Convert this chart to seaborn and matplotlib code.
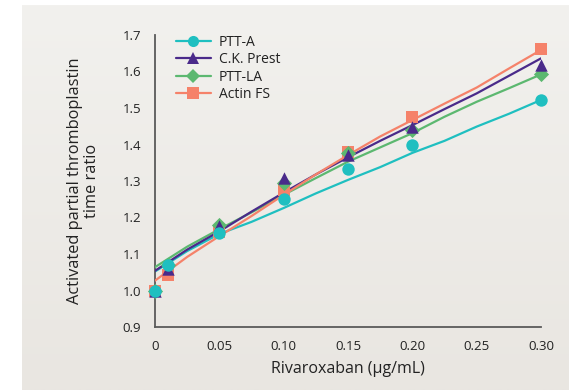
import numpy as np
import pandas as pd
import matplotlib
matplotlib.use("Agg")
import matplotlib.pyplot as plt
from matplotlib.lines import Line2D
import seaborn as sns

# Measured points
conc = [0, 0.01, 0.05, 0.10, 0.15, 0.20, 0.30]
ptt_a = [1.00, 1.070, 1.158, 1.251, 1.332, 1.400, 1.522]
ck_prest = [1.00, 1.060, 1.176, 1.307, 1.371, 1.449, 1.618]
ptt_la = [1.00, 1.070, 1.180, 1.295, 1.378, 1.440, 1.592]
actin_fs = [1.00, 1.042, 1.160, 1.275, 1.380, 1.476, 1.662]

# Fitted curves
fit_x = [0, 0.025, 0.05, 0.075, 0.10, 0.125, 0.15, 0.175, 0.20, 0.225, 0.25, 0.275, 0.30]
fit_ptt_a = [1.052, 1.108, 1.155, 1.188, 1.226, 1.266, 1.303, 1.338, 1.377, 1.410, 1.449, 1.484, 1.522]
fit_ck_prest = [1.054, 1.112, 1.162, 1.216, 1.268, 1.318, 1.365, 1.410, 1.453, 1.497, 1.540, 1.588, 1.636]
fit_ptt_la = [1.064, 1.120, 1.168, 1.214, 1.262, 1.308, 1.353, 1.392, 1.431, 1.476, 1.517, 1.554, 1.592]
fit_actin_fs = [1.027, 1.092, 1.149, 1.204, 1.262, 1.318, 1.371, 1.422, 1.467, 1.512, 1.556, 1.608, 1.659]

names = ["PTT-A", "C.K. Prest", "PTT-LA", "Actin FS"]
colors = {"PTT-A": "#1fbfc0", "C.K. Prest": "#4a2a8a", "PTT-LA": "#5cb870", "Actin FS": "#f5826a"}
markers = {"PTT-A": "o", "C.K. Prest": "^", "PTT-LA": "D", "Actin FS": "s"}
msize = {"PTT-A": 80, "C.K. Prest": 80, "PTT-LA": 60, "Actin FS": 70}

pts = pd.DataFrame({
    "x": conc * 4,
    "y": ptt_a + ck_prest + ptt_la + actin_fs,
    "reagent": sum([[n] * len(conc) for n in names], []),
})
fits = pd.DataFrame({
    "x": fit_x * 4,
    "y": fit_ptt_a + fit_ck_prest + fit_ptt_la + fit_actin_fs,
    "reagent": sum([[n] * len(fit_x) for n in names], []),
})

sns.set_style("white")
plt.rcParams["font.family"] = ["Open Sans", "DejaVu Sans"]

fig = plt.figure(figsize=(5.69, 3.91), dpi=100)
fig.patch.set_facecolor("white")

# gradient panel
bg = fig.add_axes([22 / 569, 1 / 391, 547 / 569, 385 / 391], zorder=-10)
grad = np.linspace(0, 1, 256).reshape(-1, 1)
top = np.array([242, 241, 238]) / 255
bot = np.array([233, 230, 225]) / 255
img = top[None, None, :] * (1 - grad[:, :, None]) + bot[None, None, :] * grad[:, :, None]
bg.imshow(img, aspect="auto", extent=[0, 1, 0, 1])
bg.set_axis_off()

ax = fig.add_axes([155 / 569, 64 / 391, 386 / 569, 292 / 391])
ax.set_facecolor("none")

draw_order = ["PTT-A", "PTT-LA", "C.K. Prest", "Actin FS"]
for i, n in enumerate(draw_order):
    sns.lineplot(data=fits[fits.reagent == n], x="x", y="y", color=colors[n],
                 lw=1.6, ax=ax, legend=False, zorder=2 + i)
pt_order = ["Actin FS", "PTT-LA", "C.K. Prest", "PTT-A"]
for i, n in enumerate(pt_order):
    sns.scatterplot(data=pts[pts.reagent == n], x="x", y="y", color=colors[n],
                    marker=markers[n], s=msize[n], linewidth=0, ax=ax,
                    legend=False, zorder=10 + i, clip_on=False)

ax.set_xlim(0, 0.30)
ax.set_ylim(0.9, 1.7)
xt = [0, 0.05, 0.10, 0.15, 0.20, 0.25, 0.30]
xl = ["0", "0.05", "0.10", "0.15", "0.20", "0.25", "0.30"]
ax.set_xticks(xt)
ax.set_xticklabels(xl)
yt = [0.9, 1.0, 1.1, 1.2, 1.3, 1.4, 1.5, 1.6, 1.7]
ax.set_yticks(yt)
ax.set_yticklabels([f"{v:.1f}" for v in yt])

for s in ["top", "right"]:
    ax.spines[s].set_visible(False)
for s in ["left", "bottom"]:
    ax.spines[s].set_color("#5a5a5a")
    ax.spines[s].set_linewidth(1.3)
ax.tick_params(axis="both", direction="out", length=6, width=1.2, color="#5a5a5a",
               labelsize=9.5, labelcolor="#222222", pad=3)
ax.tick_params(axis="y", length=7)

ax.set_xlabel("Rivaroxaban (µg/mL)", fontsize=11.5, color="#222222", labelpad=6)
ax.set_ylabel("Activated partial thromboplastin\ntime ratio", fontsize=11.8,
              color="#222222", labelpad=16, linespacing=1.1)

handles = [Line2D([0], [0], color=colors[n], marker=markers[n], lw=1.6,
                  markersize=8 if n != "PTT-LA" else 7, markeredgewidth=0) for n in names]
leg = ax.legend(handles, names, loc="upper left", bbox_to_anchor=(0.04, 1.02),
                frameon=False, fontsize=10, handlelength=2.5, handletextpad=0.6,
                labelspacing=0.18, borderaxespad=0)
for t in leg.get_texts():
    t.set_color("#222222")

fig.savefig("out.png", dpi=100, facecolor="white")
